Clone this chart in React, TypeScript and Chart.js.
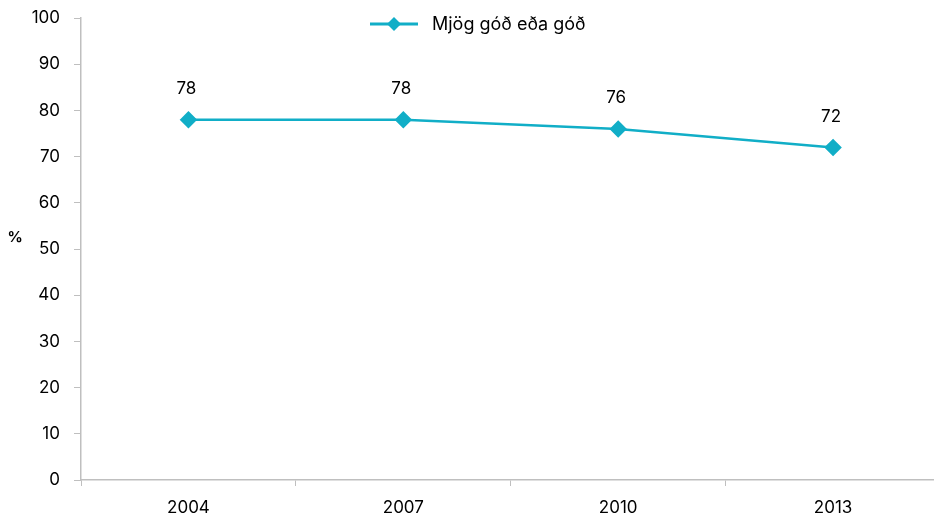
import React, { useEffect, useRef } from "react";
import { Chart, registerables } from "chart.js";

Chart.register(...registerables);

const categories = ["2004", "2007", "2010", "2013"];
const values = [78, 78, 76, 72];
const seriesLabel = "Mjög góð eða góð";
const yTitle = "%";

const LINE = "#11AEC7";
const AXIS = "#BFBFBF";
const FONT = "Inter, 'DejaVu Sans', sans-serif";
const SHIFT = 6;

const overlay = {
  id: "overlay",
  afterDatasetsDraw(chart: any) {
    const ctx = chart.ctx;
    const meta = chart.getDatasetMeta(0);
    ctx.save();
    ctx.fillStyle = "#000";
    ctx.font = `17px ${FONT}`;
    ctx.textAlign = "center";
    ctx.textBaseline = "middle";
    meta.data.forEach((pt: any, i: number) => {
      ctx.fillText(String(values[i]), pt.x - 2, pt.y - 31);
    });
    // y title
    ctx.font = `bold 15px ${FONT}`;
    ctx.fillText(yTitle, 15, 237 + SHIFT);
    // legend
    const ly = 24 + SHIFT;
    ctx.strokeStyle = LINE;
    ctx.lineWidth = 3;
    ctx.beginPath();
    ctx.moveTo(370, ly);
    ctx.lineTo(418, ly);
    ctx.stroke();
    ctx.fillStyle = LINE;
    ctx.beginPath();
    ctx.moveTo(394, ly - 7);
    ctx.lineTo(401, ly);
    ctx.lineTo(394, ly + 7);
    ctx.lineTo(387, ly);
    ctx.closePath();
    ctx.fill();
    ctx.fillStyle = "#000";
    ctx.textAlign = "left";
    ctx.font = `18px ${FONT}`;
    ctx.fillText(seriesLabel, 432, ly + 1);
    ctx.restore();
  },
};

export default function App() {
  const ref = useRef<HTMLCanvasElement>(null);
  useEffect(() => {
    if (!ref.current) return;
    const chart = new Chart(ref.current, {
      type: "line",
      data: {
        labels: categories,
        datasets: [
          {
            label: seriesLabel,
            data: values,
            borderColor: LINE,
            backgroundColor: LINE,
            borderWidth: 2.5,
            pointStyle: "rectRot",
            pointRadius: 7,
            pointHoverRadius: 7,
            pointBackgroundColor: LINE,
            pointBorderColor: LINE,
            tension: 0,
          },
        ],
      },
      options: {
        responsive: false,
        animation: false,
        events: [],
        layout: { padding: { top: 10, right: 0, left: 0, bottom: 0 } },
        plugins: { legend: { display: false }, tooltip: { enabled: false } },
        scales: {
          x: {
            offset: true,
            grid: {
              offset: true,
              drawOnChartArea: false,
              drawTicks: true,
              tickLength: 6,
              color: AXIS,
            },
            border: { display: true, color: AXIS, width: 1.5 },
            ticks: {
              color: "#000",
              font: { family: FONT, size: 17 },
              padding: 12,
              maxRotation: 0,
            },
            afterFit: (s: any) => {
              s.height = 40;
            },
          },
          y: {
            min: 0,
            max: 100,
            grid: {
              drawOnChartArea: false,
              drawTicks: true,
              tickLength: 7,
              color: AXIS,
            },
            border: { display: true, color: AXIS, width: 1.5 },
            ticks: {
              stepSize: 10,
              color: "#000",
              font: { family: FONT, size: 17 },
              padding: 14,
            },
            afterFit: (s: any) => {
              s.width = 81;
            },
          },
        },
      },
      plugins: [overlay],
    });
    return () => chart.destroy();
  }, []);
  return (
    <div
      style={{
        position: "fixed",
        left: 0,
        top: 0,
        width: 934,
        height: 520,
        overflow: "hidden",
        background: "#fff",
      }}
    >
      <canvas
        ref={ref}
        width={950}
        height={520 + SHIFT}
        style={{ display: "block", marginTop: -SHIFT }}
      />
    </div>
  );
}
